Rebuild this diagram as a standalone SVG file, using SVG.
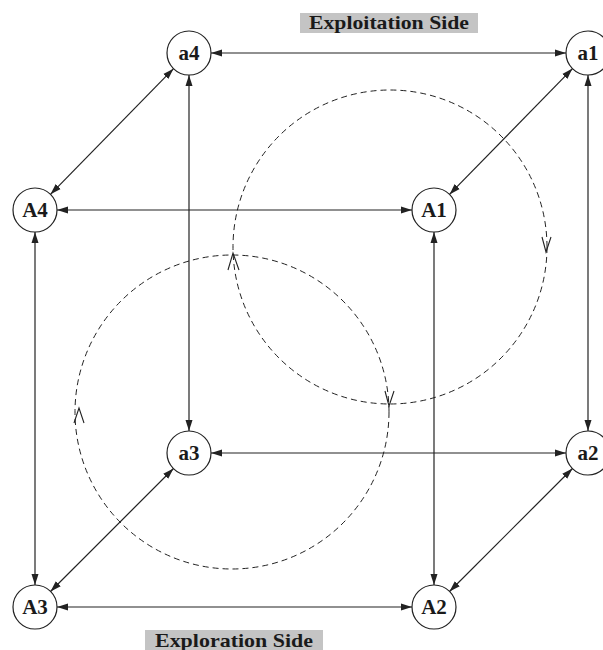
<svg xmlns="http://www.w3.org/2000/svg" width="603" height="650" viewBox="0 0 603 650">
<style>
.node circle{fill:#fff;stroke:#222;stroke-width:1.2}
.node text{font-family:'Liberation Serif','Times New Roman',Times,serif;font-weight:700;font-size:21px;fill:#1a1a1a;text-anchor:middle}
.conn line{stroke:#222;stroke-width:1.2;marker-start:url(#ah);marker-end:url(#ah)}
.cyc circle{fill:none;stroke:#222;stroke-width:1;stroke-dasharray:6 4}
.cyc polyline{fill:none;stroke:#222;stroke-width:1.1}
.lbl rect{fill:#c4c4c4}
.lbl text{font-family:'Liberation Serif','Times New Roman',Times,serif;font-weight:700;font-size:19px;fill:#1a1a1a}
</style>
<defs>
<marker id="ah" markerUnits="userSpaceOnUse" markerWidth="11" markerHeight="8" refX="11" refY="4" orient="auto-start-reverse">
<path d="M0,0.5 L11,4 L0,7.5 z" fill="#222"/>
</marker>
</defs>
<rect width="603" height="650" fill="#fff"/>
<g id="cycles" class="cyc">
<circle cx="390" cy="247" r="157"/>
<circle cx="232" cy="412" r="157"/>
<polyline points="542,237 546,252 551,237"/>
<polyline points="228,270 233,253 239,270"/>
<polyline points="385,391 389,406 394,391"/>
<polyline points="74,423 79,408 84,423"/>
</g>
<g id="connectors" class="conn">
<line x1="211" y1="53" x2="566" y2="53"/>
<line x1="57" y1="210" x2="412" y2="210"/>
<line x1="211" y1="453" x2="566" y2="453"/>
<line x1="57" y1="607" x2="412" y2="607"/>
<line x1="35" y1="232" x2="35" y2="585"/>
<line x1="189" y1="75" x2="189" y2="431"/>
<line x1="434" y1="232" x2="434" y2="585"/>
<line x1="588" y1="75" x2="588" y2="431"/>
<line x1="173.5" y1="68.7" x2="50.5" y2="194.3"/>
<line x1="572.5" y1="68.6" x2="449.5" y2="194.4"/>
<line x1="173.5" y1="468.5" x2="50.5" y2="591.5"/>
<line x1="572.5" y1="468.5" x2="449.5" y2="591.5"/>
</g>
<g id="a4" class="node"><circle cx="189" cy="53" r="22"/><text x="189" y="60">a4</text></g>
<g id="a1" class="node"><circle cx="588" cy="53" r="22"/><text x="588" y="60">a1</text></g>
<g id="A4" class="node"><circle cx="35" cy="210" r="22"/><text x="35" y="217">A4</text></g>
<g id="A1" class="node"><circle cx="434" cy="210" r="22"/><text x="434" y="217">A1</text></g>
<g id="a3" class="node"><circle cx="189" cy="453" r="22"/><text x="189" y="460">a3</text></g>
<g id="a2" class="node"><circle cx="588" cy="453" r="22"/><text x="588" y="460">a2</text></g>
<g id="A3" class="node"><circle cx="35" cy="607" r="22"/><text x="35" y="614">A3</text></g>
<g id="A2" class="node"><circle cx="434" cy="607" r="22"/><text x="434" y="614">A2</text></g>
<g id="exploitation" class="lbl"><rect x="300" y="13" width="178" height="20"/><text x="309" y="29" textLength="160" lengthAdjust="spacingAndGlyphs">Exploitation Side</text></g>
<g id="exploration" class="lbl"><rect x="145" y="630" width="178" height="20"/><text x="155" y="647" textLength="158" lengthAdjust="spacingAndGlyphs">Exploration Side</text></g>
</svg>
